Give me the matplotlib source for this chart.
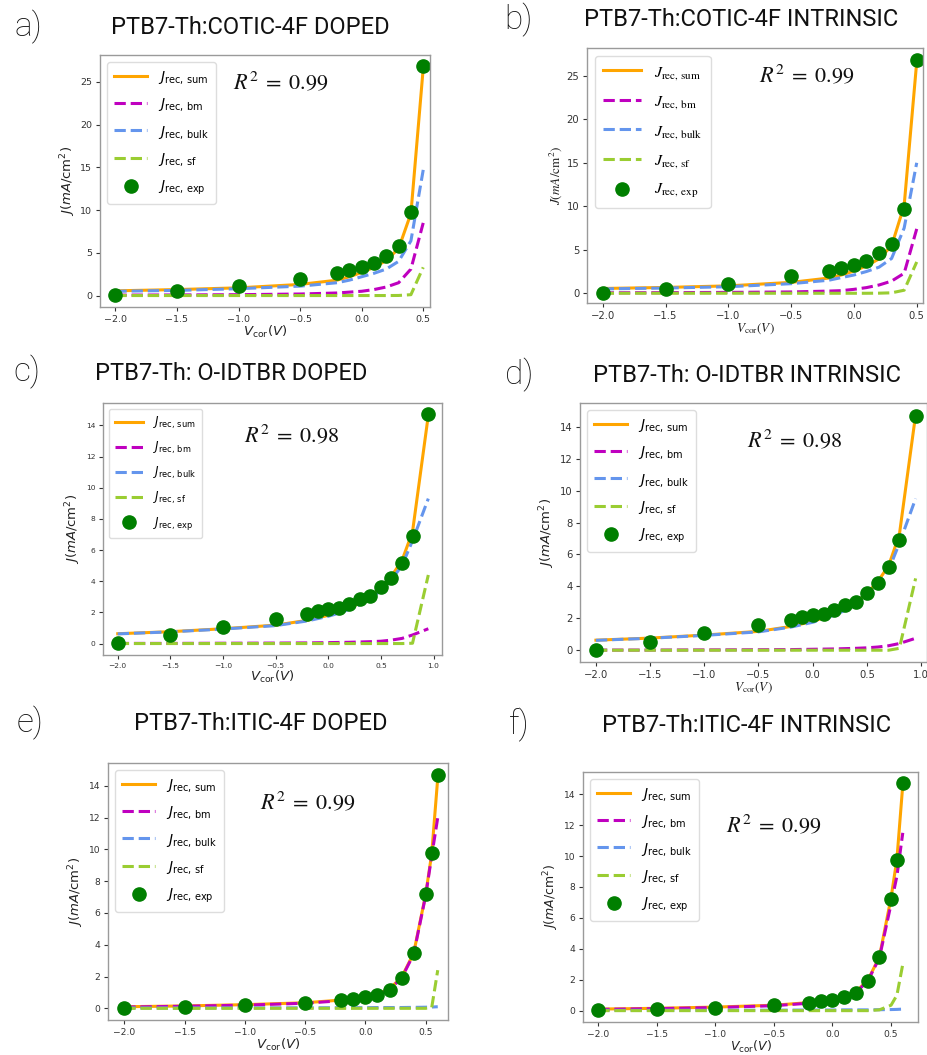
import matplotlib
matplotlib.use("Agg")
import matplotlib.pyplot as plt
from matplotlib.font_manager import FontProperties

# ---------------- data ----------------
V_cotic = [-2.0, -1.5, -1.0, -0.5, -0.2, -0.1, 0.0, 0.1, 0.2, 0.3, 0.4, 0.5]
a_exp = [0.05, 0.5, 1.1, 1.95, 2.6, 2.95, 3.3, 3.8, 4.6, 5.75, 9.75, 26.8]
a_sum = [0.55, 0.7, 0.9, 1.3, 1.8, 2.2, 2.7, 3.3, 4.1, 5.5, 9.6, 26.6]
a_bm = [0.05, 0.07, 0.1, 0.18, 0.3, 0.4, 0.5, 0.7, 1.0, 1.5, 3.1, 8.5]
a_bulk = [0.5, 0.6, 0.8, 1.1, 1.5, 1.8, 2.2, 2.6, 3.1, 4.0, 6.4, 14.7]
a_sf = [0.0, 0.0, 0.0, 0.0, 0.0, 0.0, 0.0, 0.0, 0.0, 0.01, 0.1, 3.3]

b_exp = [0.05, 0.5, 1.1, 1.95, 2.6, 2.95, 3.3, 3.75, 4.6, 5.7, 9.7, 26.8]
b_sum = [0.55, 0.67, 0.85, 1.25, 1.75, 2.1, 2.55, 3.15, 3.95, 5.45, 10.1, 26.6]
b_bm = [0.05, 0.07, 0.1, 0.15, 0.25, 0.3, 0.45, 0.65, 0.95, 1.4, 2.3, 7.4]
b_bulk = [0.5, 0.6, 0.75, 1.1, 1.5, 1.8, 2.1, 2.5, 3.0, 4.0, 7.5, 15.0]
b_sf = [0.0, 0.0, 0.0, 0.0, 0.0, 0.0, 0.0, 0.0, 0.01, 0.05, 0.35, 3.6]

V_idtbr = [-2.0, -1.5, -1.0, -0.5, -0.2, -0.1, 0.0, 0.1, 0.2, 0.3, 0.4, 0.5, 0.6, 0.7, 0.8, 0.95]
c_exp = [0.04, 0.53, 1.07, 1.58, 1.9, 2.1, 2.2, 2.3, 2.55, 2.85, 3.05, 3.6, 4.23, 5.2, 6.88, 14.7]
c_sum = [0.63, 0.76, 0.95, 1.18, 1.49, 1.65, 1.81, 2.02, 2.28, 2.6, 3.02, 3.55, 4.32, 5.33, 7.17, 14.65]
c_bm = [0.01, 0.01, 0.02, 0.03, 0.04, 0.05, 0.06, 0.07, 0.08, 0.1, 0.12, 0.15, 0.22, 0.33, 0.55, 0.95]
c_bulk = [0.62, 0.75, 0.93, 1.15, 1.45, 1.6, 1.75, 1.95, 2.2, 2.5, 2.9, 3.4, 4.1, 5.0, 6.6, 9.3]
c_sf = [0.0, 0.0, 0.0, 0.0, 0.0, 0.0, 0.0, 0.0, 0.0, 0.0, 0.0, 0.0, 0.0, 0.0, 0.02, 4.4]

d_exp = [0.04, 0.53, 1.07, 1.58, 1.9, 2.1, 2.2, 2.3, 2.55, 2.85, 3.05, 3.6, 4.23, 5.2, 6.88, 14.7]
d_sum = [0.63, 0.76, 0.95, 1.18, 1.49, 1.65, 1.81, 2.02, 2.28, 2.6, 3.02, 3.55, 4.3, 5.28, 7.24, 14.75]
d_bm = [0.01, 0.01, 0.02, 0.03, 0.04, 0.05, 0.06, 0.07, 0.08, 0.1, 0.12, 0.15, 0.2, 0.28, 0.42, 0.75]
d_bulk = [0.62, 0.75, 0.93, 1.15, 1.45, 1.6, 1.75, 1.95, 2.2, 2.5, 2.9, 3.4, 4.1, 5.0, 6.7, 9.5]
d_sf = [0.0, 0.0, 0.0, 0.0, 0.0, 0.0, 0.0, 0.0, 0.0, 0.0, 0.0, 0.0, 0.0, 0.0, 0.12, 4.5]

V_itic = [-2.0, -1.5, -1.0, -0.5, -0.2, -0.1, 0.0, 0.1, 0.2, 0.3, 0.4, 0.5, 0.55, 0.6]
e_exp = [0.02, 0.1, 0.2, 0.35, 0.5, 0.6, 0.7, 0.85, 1.15, 1.9, 3.5, 7.2, 9.75, 14.7]
e_sum = [0.1, 0.15, 0.23, 0.35, 0.52, 0.6, 0.7, 0.89, 1.23, 1.95, 3.46, 7.17, 9.73, 14.5]
e_bm = [0.08, 0.13, 0.2, 0.32, 0.48, 0.56, 0.66, 0.84, 1.18, 1.9, 3.4, 7.1, 9.6, 12.0]
e_bulk = [0.02, 0.02, 0.03, 0.03, 0.04, 0.04, 0.04, 0.05, 0.05, 0.05, 0.06, 0.07, 0.08, 0.1]
e_sf = [0.0, 0.0, 0.0, 0.0, 0.0, 0.0, 0.0, 0.0, 0.0, 0.0, 0.0, 0.0, 0.05, 2.4]

f_exp = [0.02, 0.1, 0.2, 0.35, 0.5, 0.6, 0.7, 0.85, 1.15, 1.9, 3.46, 7.25, 9.74, 14.7]
f_sum = [0.1, 0.15, 0.23, 0.35, 0.52, 0.6, 0.7, 0.89, 1.23, 1.95, 3.46, 7.3, 9.8, 14.6]
f_bm = [0.08, 0.13, 0.2, 0.32, 0.48, 0.56, 0.66, 0.84, 1.18, 1.9, 3.4, 6.9, 8.7, 11.5]
f_bulk = [0.02, 0.02, 0.03, 0.03, 0.04, 0.04, 0.04, 0.05, 0.05, 0.05, 0.06, 0.07, 0.08, 0.1]
f_sf = [0.0, 0.0, 0.0, 0.0, 0.0, 0.0, 0.0, 0.0, 0.0, 0.0, 0.05, 0.35, 1.0, 3.0]

titles = ["PTB7-Th:COTIC-4F DOPED", "PTB7-Th:COTIC-4F INTRINSIC",
          "PTB7-Th: O-IDTBR DOPED", "PTB7-Th: O-IDTBR INTRINSIC",
          "PTB7-Th:ITIC-4F DOPED", "PTB7-Th:ITIC-4F INTRINSIC"]
letters = ["a)", "b)", "c)", "d)", "e)", "f)"]
r2_texts = ["0.99", "0.99", "0.98", "0.98", "0.99", "0.99"]
yticks_cotic = [0, 5, 10, 15, 20, 25]
yticks_other = [0, 2, 4, 6, 8, 10, 12, 14]
xticks_all = [-2.0, -1.5, -1.0, -0.5, 0.0, 0.5, 1.0]

# ---------------- layout ----------------
W, H = 928, 1055
fig = plt.figure(figsize=(W / 100, H / 100), dpi=100)


def px_axes(x0, y0, x1, y1):
    return fig.add_axes([x0 / W, 1 - y1 / H, (x1 - x0) / W, (y1 - y0) / H])


panels = [
    dict(box=(100, 55, 430, 307), V=V_cotic, exp=a_exp, s=a_sum, bm=a_bm, bulk=a_bulk, sf=a_sf,
         xlim=(-2.125, 0.555), ylim=None, yt=yticks_cotic, math="dejavusans", tick=6.8, leg=10.0,
         r2=(281, 82), title=(250, 27), let=(28, 27), ylab_math="dejavusans", xlab_math="dejavusans",
         labfs=9.5),
    dict(box=(587, 48, 923, 303), V=V_cotic, exp=b_exp, s=b_sum, bm=b_bm, bulk=b_bulk, sf=b_sf,
         xlim=(-2.125, 0.55), ylim=(-1.12, 28.2), yt=yticks_cotic, math="stix", tick=7.2, leg=11.5,
         r2=(807, 75), title=(741, 20), let=(518, 20), ylab_math="stix", xlab_math="stix",
         labfs=9.5),
    dict(box=(103, 403, 442, 655), V=V_idtbr, exp=c_exp, s=c_sum, bm=c_bm, bulk=c_bulk, sf=c_sf,
         xlim=(-2.14, 1.08), ylim=None, yt=yticks_other, math="dejavusans", tick=5.4, leg=8.5,
         r2=(292, 435), title=(231, 373), let=(27, 372), ylab_math="dejavusans", xlab_math="dejavusans",
         labfs=9.5),
    dict(box=(580, 403, 927, 662), V=V_idtbr, exp=d_exp, s=d_sum, bm=d_bm, bulk=d_bulk, sf=d_sf,
         xlim=(-2.147, 1.055), ylim=None, yt=yticks_other, math="dejavusans", tick=7.2, leg=10.0,
         r2=(795, 440), title=(747, 375), let=(519, 375), ylab_math="dejavusans", xlab_math="stix",
         labfs=9.5),
    dict(box=(108, 763, 448, 1020), V=V_itic, exp=e_exp, s=e_sum, bm=e_bm, bulk=e_bulk, sf=e_sf,
         xlim=(-2.135, 0.685), ylim=None, yt=yticks_other, math="dejavusans", tick=6.6, leg=10.0,
         r2=(308, 802), title=(261, 723), let=(30, 723), ylab_math="dejavusans", xlab_math="dejavusans",
         labfs=9.5),
    dict(box=(583, 772, 918, 1022), V=V_itic, exp=f_exp, s=f_sum, bm=f_bm, bulk=f_bulk, sf=f_sf,
         xlim=(-2.13, 0.73), ylim=None, yt=yticks_other, math="dejavusans", tick=6.6, leg=10.0,
         r2=(774, 825), title=(747, 725), let=(519, 725), ylab_math="dejavusans", xlab_math="dejavusans",
         labfs=9.0),
]

C_SUM = "#FFA500"
C_BM = "#BF00BF"
C_BULK = "#6495ED"
C_SF = "#9ACD32"
C_EXP = "#007F00"

for i, p in enumerate(panels):
    ax = px_axes(*p["box"])
    V = p["V"]
    ax.plot(V, p["s"], color=C_SUM, lw=2.2, ls="-", label=r"$J_{\mathrm{rec,\,sum}}$")
    ax.plot(V, p["bm"], color=C_BM, lw=2.2, ls="--", label=r"$J_{\mathrm{rec,\,bm}}$")
    ax.plot(V, p["bulk"], color=C_BULK, lw=2.2, ls="--", label=r"$J_{\mathrm{rec,\,bulk}}$")
    ax.plot(V, p["sf"], color=C_SF, lw=2.2, ls="--", label=r"$J_{\mathrm{rec,\,sf}}$")
    ax.plot(V, p["exp"], "o", color=C_EXP, ms=9.5, label=r"$J_{\mathrm{rec,\,exp}}$")
    if p["ylim"] is not None:
        ax.set_ylim(*p["ylim"])
    ax.set_xticks(xticks_all)
    ax.set_yticks(p["yt"])
    ax.set_xlim(*p["xlim"])
    ax.tick_params(labelsize=p["tick"], colors="#333333", length=3, width=0.8, pad=2.5)
    for sp in ax.spines.values():
        sp.set_color("#9a9a9a")
        sp.set_linewidth(1.0)
    ax.set_ylabel(r"$J(mA/\mathrm{cm}^2)$", fontsize=p["labfs"], color="#222222",
                  math_fontfamily=p["ylab_math"], labelpad=2)
    ax.set_xlabel(r"$V_{\mathrm{cor}}(V)$", fontsize=p["labfs"], color="#222222",
                  math_fontfamily=p["xlab_math"], labelpad=0.5)
    prop = FontProperties(size=p["leg"], math_fontfamily=p["math"])
    ax.legend(loc="upper left", prop=prop, labelspacing=0.75, handlelength=2.4,
              borderpad=0.5, framealpha=1.0, edgecolor="#dddddd", fancybox=True)
    fig.text(p["r2"][0] / W, 1 - p["r2"][1] / H, r"$R^2\;=\;" + r2_texts[i] + "$",
             fontsize=16, ha="center", va="center", color="#111111",
             math_fontfamily="stix")
    fig.text(p["title"][0] / W, 1 - p["title"][1] / H, titles[i], fontsize=17,
             family="Roboto", ha="center", va="center", color="#111111")
    fig.text(p["let"][0] / W, 1 - p["let"][1] / H, letters[i], fontsize=24,
             family="Roboto", weight="light", ha="center", va="center", color="#111111")

fig.savefig("out.png", dpi=100)
